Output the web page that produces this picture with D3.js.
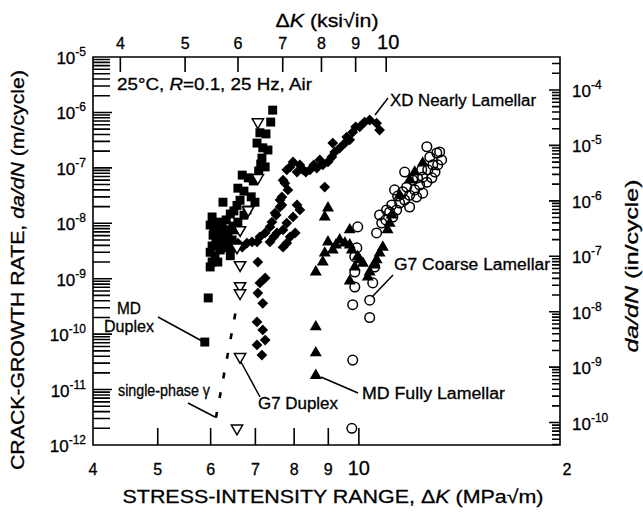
<!DOCTYPE html>
<html>
<head>
<meta charset="utf-8">
<script src="https://cdn.jsdelivr.net/npm/d3@7"></script>
<style>
body { margin: 0; background: #fff; color: #000; }
text { font-family: "Liberation Sans", Arial, Helvetica, sans-serif; fill: #000; stroke: #000; stroke-width: 0.3px; }
</style>
</head>
<body>
<svg id="chart" width="643" height="512"></svg>
<script>
// [deltaK (MPa sqrt m), da/dN (m/cycle)]
const mdDuplex = [
  [7.43,1.1e-6],[7.38,6.7e-7],[7.11,4.3e-7],[7.26,4.1e-7],[7.04,2.8e-7],[7.18,2.3e-7],[7.31,2.1e-7],
  [7.16,1.5e-7],[7.13,1.17e-7],[7.24,1.04e-7],[7.08,8.8e-8],[6.69,7.4e-8],[6.83,6.6e-8],[6.95,5.8e-8],
  [6.59,4.3e-8],[6.73,3.8e-8],[6.90,3.0e-8],[6.99,2.4e-8],[6.26,2.4e-8],[6.03,1.3e-8],[5.99,9.3e-9],
  [6.07,7.3e-9],[6.15,1.05e-8],[6.24,8.2e-9],[6.33,1.15e-8],[6.42,1.47e-8],[6.50,1.67e-8],[6.57,2.1e-8],
  [6.64,2.6e-8],[6.37,6.1e-9],[6.46,5.0e-9],[6.28,4.4e-9],[6.11,5.4e-9],[6.03,3.9e-9],[5.99,3.0e-9],
  [6.09,2.6e-9],[6.20,3.3e-9],[6.33,3.6e-9],[6.42,2.6e-9],[6.03,2.0e-9],[6.15,2.0e-9],[5.99,1.63e-9],
  [6.24,6.7e-9],[6.59,1.05e-8],[6.73,1.4e-8],[6.48,8.9e-9],[6.80,1.74e-8],[6.05,6.1e-9],[6.20,5.0e-9],
  [6.33,7.6e-9],[6.52,7.6e-9],[6.15,3.9e-9],[6.50,3.6e-9],[6.07,8.9e-9],[5.95,4.5e-10],[5.88,7.2e-11]
];
const g7Duplex = [
  [7.06,6.7e-7],[7.06,6.6e-8],[6.83,1.74e-8],[6.64,7.6e-9],[6.57,3.7e-9],[6.64,1.77e-9],
  [6.64,7.4e-10],[6.64,5.5e-10],[6.64,3.9e-11],[6.57,2.0e-12]
];
const xdNearlyLamellar = [
  [7.06,2.0e-9],[7.24,1.03e-9],[7.11,8.4e-10],[7.06,5.5e-10],[7.18,3.6e-10],[7.04,1.66e-10],[7.18,1.19e-10],
  [7.24,7.8e-11],[7.04,6.4e-11],[7.16,4.2e-11],
  [6.59,4.4e-9],[6.69,3.7e-9],[6.80,4.4e-9],[6.92,4.6e-9],[7.04,4.6e-9],[7.11,5.7e-9],[7.24,6.7e-9],
  [7.36,8.6e-9],[7.41,1.05e-8],[7.49,1.53e-8],[7.62,1.97e-8],[7.67,2.98e-8],[7.75,5.3e-8],[7.36,4.6e-9],
  [7.46,5.7e-9],[7.54,6.7e-9],[7.70,7.6e-9],[7.80,1.01e-8],[7.97,1.3e-8],[8.16,1.74e-8],[8.08,2.14e-8],
  [7.67,2.14e-8],[7.80,4.4e-9],[7.70,3.7e-9],[7.89,5.7e-9],[8.03,6.7e-9],[7.52,1.41e-8],[7.62,2.63e-8],
  [7.83,4.0e-8],
  [7.70,6.0e-8],[7.80,9.2e-8],[7.89,1.04e-7],[7.97,1.28e-7],[8.08,8.4e-8],[8.25,9.2e-8],[8.45,9.2e-8],
  [8.65,9.9e-8],[8.83,1.13e-7],[8.99,1.28e-7],[9.11,1.57e-7],[9.14,2.8e-7],[9.20,1.93e-7],[9.36,2.28e-7],
  [9.53,2.8e-7],[9.69,3.2e-7],[9.79,4.4e-7],[10.03,5.5e-7],[10.2,6.7e-7],[10.38,7.3e-7],[10.63,6.4e-7],
  [10.74,4.8e-7],[8.89,4.5e-8],[8.16,1.13e-7],[8.33,8.4e-8],[8.56,1.13e-7],[8.74,1.39e-7],[9.89,5.5e-7],
  [9.59,3.6e-7]
];
const mdFullyLamellar = [
  [8.62,1.8e-11],[8.62,4.6e-11],[8.62,1.35e-10],[8.62,1.32e-9],[8.83,2.0e-9],[8.89,2.9e-9],[8.99,4.6e-9],
  [9.14,3.3e-9],[9.36,5.0e-9],[9.53,4.4e-9],[9.69,4.06e-9],[9.76,3.3e-9],[9.96,2.5e-9],[10.14,1.9e-9],
  [9.86,1.63e-9],[9.69,9.1e-10],[10.38,1.32e-9],[10.31,1.07e-9],[10.63,2.2e-9],[10.86,3.7e-9],[10.74,2.9e-9],
  [11.04,7.6e-9],[11.12,1.0e-8],[8.89,1.3e-8],[8.99,1.89e-8],[9.69,7.6e-9],[9.24,4.06e-9],[10.03,2.2e-9],
  [10.56,1.77e-9],[12.46,1.22e-7],[11.91,6.0e-8],[11.51,3.2e-8],[11.2,1.41e-8],[12.12,8.4e-8]
];
const g7CoarseLamellar = [
  [9.76,2.0e-12],[9.79,3.4e-11],[9.79,3.4e-10],[10.38,4.1e-10],[10.38,2.0e-10],[9.86,7.1e-10],[9.86,1.32e-9],
  [9.86,2.5e-9],[9.93,3.6e-9],[9.96,8.6e-9],[10.49,8.4e-10],[10.56,1.63e-9],[10.63,6.7e-9],[10.82,1.01e-8],
  [10.74,1.41e-8],[11.0,1.74e-8],[11.2,2.14e-8],[11.31,4.0e-8],[11.71,8.4e-8],
  [12.64,2.4e-7],[13.08,1.85e-7],[13.3,1.39e-7],[12.9,1.13e-7],[12.68,9.2e-8],[12.46,6.8e-8],[12.86,6.6e-8],
  [12.33,4.9e-8],[12.12,4.0e-8],[11.91,3.2e-8],[11.71,2.63e-8],[11.51,2.32e-8],[11.39,1.74e-8],[11.24,1.3e-8],
  [11.63,3.7e-8],[12.04,6.0e-8],[12.42,9.2e-8],[13.21,1.93e-7],[12.77,1.57e-7],[11.91,1.97e-8],[11.79,4.5e-8],
  [12.2,2.98e-8],[12.46,3.5e-8],[11.43,3.1e-8],[10.97,1.15e-8],[11.12,1.6e-8],[13.12,1.13e-7],[12.24,6.6e-8],
  [12.64,5.5e-8],[13.0,8.4e-8]
];
const singlePhaseGamma = [[6.11,3.1e-12],[6.57,3.4e-10]];

const bottomTicks = [5, 6, 7, 8, 9, 10];
const bottomLabels = [[4,"4"],[5,"5"],[6,"6"],[7,"7"],[8,"8"],[9,"9"],[10,"10"],[20,"2"]];
const topTicksKsi = [4, 5, 6, 7, 8, 9, 10];
const leftDecades = [-12, -11, -10, -9, -8, -7, -6, -5];
const rightDecades = [-10, -9, -8, -7, -6, -5, -4];

const KSI = 1.0988;   // MPa sqrt(m) per ksi sqrt(in)
const INCH = 0.0254;  // m per inch

const svg = d3.select("#chart");
const x = d3.scaleLog().domain([4, 20]).range([93, 560]);
const y = d3.scaleLog().domain([1e-12, 1e-5]).range([445, 57]);
const xKsi = d3.scaleLog().domain([4 / KSI, 20 / KSI]).range([93, 560]);
const yIn = d3.scaleLog().domain([1e-12 / INCH, 1e-5 / INCH]).range([445, 57]);

const isDecade = v => Math.abs(Math.log10(v) - Math.round(Math.log10(v))) < 1e-6;
const [xa, xb] = x.range();
const [ya, yb] = y.range();

// frame and ticks as one path, built from the scales
const frame = d3.path();
frame.rect(xa, yb, xb - xa, ya - yb);
y.ticks().forEach(v => { frame.moveTo(xa, y(v)); frame.lineTo(xa + (isDecade(v) ? 19 : 17), y(v)); });
yIn.ticks().forEach(v => { frame.moveTo(xb, yIn(v)); frame.lineTo(xb - (isDecade(v) ? 11 : 8), yIn(v)); });
bottomTicks.forEach(v => { frame.moveTo(x(v), ya); frame.lineTo(x(v), ya - 17); });
topTicksKsi.forEach(v => { frame.moveTo(xKsi(v), yb); frame.lineTo(xKsi(v), yb + 15); });
svg.append("path").attr("d", frame.toString())
  .style("fill", "none").style("stroke", "#000").style("stroke-width", "1.6px");

// data
const px = d => x(d[0]), py = d => y(d[1]);

svg.append("path").datum(singlePhaseGamma)
  .attr("d", d3.line().x(px).y(py))
  .attr("fill", "none").attr("stroke", "#000").attr("stroke-width", 2.6).attr("stroke-dasharray", "6,14");

svg.append("g").selectAll("path").data(mdDuplex).enter().append("path")
  .attr("d", d3.symbol().type(d3.symbolSquare).size(80))
  .attr("transform", d => `translate(${px(d)},${py(d)})`).attr("fill", "#000");

svg.append("g").selectAll("path").data(xdNearlyLamellar).enter().append("path")
  .attr("d", d3.symbol().type(d3.symbolSquare).size(58))
  .attr("transform", d => `translate(${px(d)},${py(d)}) rotate(45)`).attr("fill", "#000");

svg.append("g").selectAll("path").data(g7Duplex).enter().append("path")
  .attr("d", d3.symbol().type(d3.symbolTriangle).size(55))
  .attr("transform", d => `translate(${px(d)},${py(d)}) rotate(180)`)
  .attr("fill", "#fff").attr("stroke", "#000").attr("stroke-width", 1.5);

svg.append("g").selectAll("path").data(mdFullyLamellar).enter().append("path")
  .attr("d", d3.symbol().type(d3.symbolTriangle).size(62))
  .attr("transform", d => `translate(${px(d)},${py(d)})`).attr("fill", "#000");

svg.append("g").selectAll("circle").data(g7CoarseLamellar).enter().append("circle")
  .attr("cx", px).attr("cy", py).attr("r", 4.8)
  .attr("fill", "none").attr("stroke", "#000").attr("stroke-width", 1.5);

// leader lines
const leaders = [
  [[375,115],[388,98]],
  [[372,297],[393,275]],
  [[158,317],[202,341]],
  [[188,403],[215,417]],
  [[241,362],[260,397]],
  [[321,377],[358,393]]
];
leaders.forEach(l => svg.append("line")
  .attr("x1", l[0][0]).attr("y1", l[0][1]).attr("x2", l[1][0]).attr("y2", l[1][1])
  .attr("stroke", "#000").attr("stroke-width", 1.5));

// text
const note = svg.append("text").attr("x", 117).attr("y", 90).style("font-size", "17px")
  .attr("textLength", 195).attr("lengthAdjust", "spacingAndGlyphs");
note.append("tspan").text("25°C, ");
note.append("tspan").style("font-style", "italic").text("R");
note.append("tspan").text("=0.1, 25 Hz, Air");

const addLabel = (s, xx, yy, len, anchor) => svg.append("text").attr("x", xx).attr("y", yy)
  .attr("text-anchor", anchor || "start").style("font-size", "16px")
  .attr("textLength", len).attr("lengthAdjust", "spacingAndGlyphs").text(s);
addLabel("XD Nearly Lamellar", 390, 106, 146);
addLabel("G7 Coarse Lamellar", 394, 270, 156);
addLabel("MD Fully Lamellar", 362, 399, 143);
addLabel("G7 Duplex", 258, 409, 80);
addLabel("MD", 129, 314, 24, "middle");
addLabel("Duplex", 129, 332, 50, "middle");
addLabel("single-phase γ", 118, 396, 92);

bottomLabels.forEach(([v, s]) => {
  svg.append("text").attr("x", x(v) + (v === 20 ? 7 : 0)).attr("y", 475)
    .attr("text-anchor", "middle").style("font-size", v === 10 ? "20px" : "16px").text(s);
});
topTicksKsi.forEach(v => {
  svg.append("text").attr("x", xKsi(v) + (v === 10 ? 2 : 0)).attr("y", 49)
    .attr("text-anchor", "middle").style("font-size", v === 10 ? "20px" : "16px").text(v);
});
leftDecades.forEach(n => {
  const t = svg.append("text").attr("x", 86).attr("y", y(Math.pow(10, n)) + 7)
    .attr("text-anchor", "end").style("font-size", "17px");
  t.append("tspan").text("10");
  t.append("tspan").attr("dy", -8).style("font-size", "12px").text(n);
});
rightDecades.forEach(n => {
  const t = svg.append("text").attr("x", 572).attr("y", yIn(Math.pow(10, n)) + 7)
    .style("font-size", "17px");
  t.append("tspan").text("10");
  t.append("tspan").attr("dy", -8).style("font-size", "12px").text(n);
});

const lt = svg.append("text").attr("transform", "translate(24,270) rotate(-90)")
  .attr("text-anchor", "middle").style("font-size", "18px")
  .attr("textLength", 400).attr("lengthAdjust", "spacingAndGlyphs");
lt.append("tspan").text("CRACK-GROWTH RATE, ");
lt.append("tspan").style("font-style", "italic").text("da/dN");
lt.append("tspan").text(" (m/cycle)");

const rt = svg.append("text").attr("transform", "translate(638,266) rotate(-90)")
  .attr("text-anchor", "middle").style("font-size", "18px")
  .attr("textLength", 173).attr("lengthAdjust", "spacingAndGlyphs");
rt.append("tspan").style("font-style", "italic").text("da/dN");
rt.append("tspan").text(" (in/cycle)");

const bt = svg.append("text").attr("x", 333).attr("y", 503)
  .attr("text-anchor", "middle").style("font-size", "19px")
  .attr("textLength", 421).attr("lengthAdjust", "spacingAndGlyphs");
bt.append("tspan").text("STRESS-INTENSITY RANGE, Δ");
bt.append("tspan").style("font-style", "italic").text("K");
bt.append("tspan").text(" (MPa√m)");

const tt = svg.append("text").attr("x", 327).attr("y", 27)
  .attr("text-anchor", "middle").style("font-size", "19px")
  .attr("textLength", 103).attr("lengthAdjust", "spacingAndGlyphs");
tt.append("tspan").text("Δ");
tt.append("tspan").style("font-style", "italic").text("K");
tt.append("tspan").text(" (ksi√in)");
</script>
</body>
</html>
